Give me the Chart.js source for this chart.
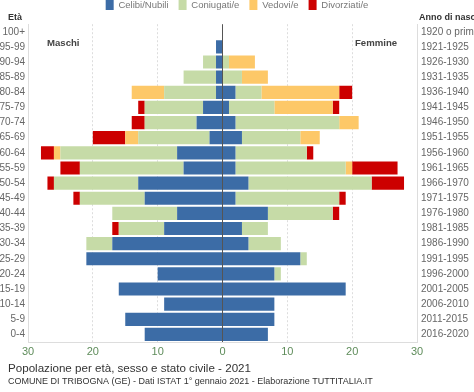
<!DOCTYPE html>
<html>
<head>
<meta charset="utf-8">
<script src="https://cdn.jsdelivr.net/npm/chart.js@4"></script>
<style>
html,body{margin:0;padding:0;background:#fff;}
#wrap{width:474px;height:392px;position:relative;}
</style>
</head>
<body>
<div id="wrap"><canvas id="c" width="474" height="392"></canvas></div>
<script>
const ages = ['100+','95-99','90-94','85-89','80-84','75-79','70-74','65-69','60-64','55-59','50-54','45-49','40-44','35-39','30-34','25-29','20-24','15-19','10-14','5-9','0-4'];
const birthYears = ['1920 o prima','1921-1925','1926-1930','1931-1935','1936-1940','1941-1945','1946-1950','1951-1955','1956-1960','1961-1965','1966-1970','1971-1975','1976-1980','1981-1985','1986-1990','1991-1995','1996-2000','2001-2005','2006-2010','2011-2015','2016-2020'];

const celibiM     = [0,1,1,1,1,3,4,2,7,6,13,12,7,9,17,21,10,16,9,15,12];
const coniugatiM  = [0,0,2,5,8,9,8,11,18,16,13,10,10,7,4,0,0,0,0,0,0];
const vedoviM     = [0,0,0,0,5,0,0,2,1,0,0,0,0,0,0,0,0,0,0,0,0];
const divorziatiM = [0,0,0,0,0,1,2,5,2,3,1,1,0,1,0,0,0,0,0,0,0];

const nubiliF     = [0,0,0,0,2,1,2,3,2,2,4,2,7,3,4,12,8,19,8,8,7];
const coniugateF  = [0,0,1,3,4,7,16,9,11,17,19,16,10,4,5,1,1,0,0,0,0];
const vedoveF     = [0,0,4,4,12,9,3,3,0,1,0,0,0,0,0,0,0,0,0,0,0];
const divorziateF = [0,0,0,0,2,1,0,0,1,7,5,1,1,0,0,0,0,0,0,0,0];

const legendLabels = ['Celibi/Nubili','Coniugati/e','Vedovi/e','Divorziati/e'];
const xTicks = [-30,-20,-10,0,10,20,30];

const colors = ['#3c6ca6','#c6dba7','#fdc868','#cc0000'];
const FONT = '"Liberation Sans", Arial, Helvetica, sans-serif';

const maleSeries = [celibiM, coniugatiM, vedoviM, divorziatiM];
const femaleSeries = [nubiliF, coniugateF, vedoveF, divorziateF];

const datasets = [];
maleSeries.forEach((arr,i)=>{
  datasets.push({label: legendLabels[i], data: arr.map(v=>-v), backgroundColor: colors[i], stack:'s', yAxisID:'y', sex:'M'});
});
femaleSeries.forEach((arr,i)=>{
  datasets.push({label: legendLabels[i], data: arr.slice(), backgroundColor: colors[i], stack:'s', yAxisID:'y', sex:'F'});
});

const textPlugin = {
  id: 'texts',
  afterDraw(chart){
    const ctx = chart.ctx;
    ctx.save();
    ctx.textBaseline = 'middle';
    ctx.textAlign = 'left';
    ctx.fillStyle = '#333';
    ctx.font = 'bold 9px ' + FONT;
    ctx.fillText('Età', 8, 18);
    ctx.fillText('Anno di nascita', 419, 18);
    ctx.fillStyle = '#444';
    ctx.font = 'bold 9.6px ' + FONT;
    ctx.fillText('Maschi', 47, 43);
    ctx.fillText('Femmine', 355, 43);
    ctx.fillStyle = '#333';
    ctx.font = '11.6px ' + FONT;
    ctx.fillText('Popolazione per età, sesso e stato civile - 2021', 8, 369);
    ctx.font = '9px ' + FONT;
    ctx.fillText('COMUNE DI TRIBOGNA (GE) - Dati ISTAT 1° gennaio 2021 - Elaborazione TUTTITALIA.IT', 8, 382);
    ctx.restore();
  }
};

new Chart(document.getElementById('c'), {
  type: 'bar',
  data: { labels: ages, datasets },
  options: {
    indexAxis: 'y',
    responsive: false,
    animation: false,
    layout: { padding: { top: -10, bottom: 30, left: 0, right: 0 } },
    datasets: { bar: { categoryPercentage: 1, barPercentage: 0.87, borderWidth: 0 } },
    plugins: {
      legend: {
        position: 'top',
        labels: {
          boxWidth: 8, boxHeight: 10, padding: 10,
          color: '#777', font: { family: FONT, size: 9.5 },
          filter: (item, data) => data.datasets[item.datasetIndex].sex === 'F'
        },
        onClick: () => {}
      },
      subtitle: {
        display: true, position: 'top', weight: 500, text: ' ',
        font: { size: 1 }, padding: { top: 3, bottom: 0 }
      },
      tooltip: { enabled: false },
      title: { display: false }
    },
    scales: {
      x: {
        type: 'linear', stacked: true, min: -30, max: 30,
        afterBuildTicks: s => { s.ticks = xTicks.map(v=>({value:v})); },
        afterFit: s => { s.height = 20; },
        ticks: { color: '#5e8c5a', font: { family: FONT, size: 11 }, padding: 3,
                 callback: v => Math.abs(v) },
        grid: {
          drawTicks: false,
          color: ctx => ctx.tick && ctx.tick.value === 0 ? '#555' : '#ddd',
          lineWidth: 1
        },
        border: {
          display: true, color: '#ddd',
          dash: ctx => (ctx.tick && (ctx.tick.value === 0 || Math.abs(ctx.tick.value) === 30)) ? [] : [2,2]
        }
      },
      y: {
        type: 'category', stacked: true, position: 'left',
        afterFit: s => { s.width = 28; },
        ticks: { color: '#666', font: { family: FONT, size: 10 }, padding: 3, autoSkip: false },
        grid: { display: false, drawTicks: false },
        border: { display: true, color: '#ddd' }
      },
      y2: {
        type: 'category', position: 'right', labels: birthYears, offset: true,
        afterFit: s => { s.width = 57; },
        ticks: { color: '#666', font: { family: FONT, size: 10 }, padding: 4, autoSkip: false },
        grid: { display: false, drawTicks: false },
        border: { display: true, color: '#ddd' }
      }
    }
  },
  plugins: [textPlugin]
});
</script>
</body>
</html>
